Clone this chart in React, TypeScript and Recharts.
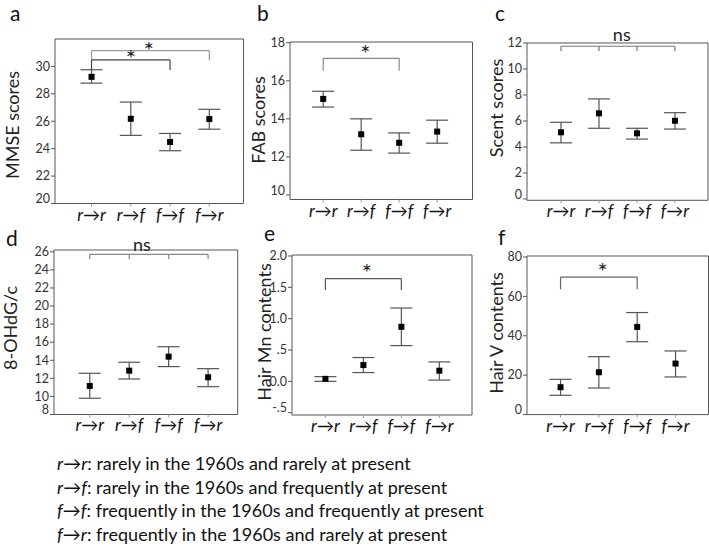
import React from 'react';
import {
  ScatterChart,
  Scatter,
  XAxis,
  YAxis,
  ErrorBar,
  ReferenceArea,
  ReferenceLine,
  ReferenceDot,
} from 'recharts';

const categories = ['r→r', 'r→f', 'f→f', 'f→r'];

const mmseMean = [29.24, 26.18, 24.49, 26.16];
const mmseLow = [28.78, 24.97, 23.85, 25.42];
const mmseHigh = [29.76, 27.4, 25.11, 26.87];

const fabMean = [15.05, 13.19, 12.74, 13.33];
const fabLow = [14.62, 12.35, 12.2, 12.72];
const fabHigh = [15.45, 14.0, 13.26, 13.93];

const scentMean = [5.13, 6.59, 5.05, 6.02];
const scentLow = [4.32, 5.44, 4.61, 5.38];
const scentHigh = [5.9, 7.7, 5.44, 6.64];

const ohdgMean = [11.16, 12.85, 14.4, 12.12];
const ohdgLow = [9.8, 11.93, 13.3, 11.08];
const ohdgHigh = [12.56, 13.78, 15.5, 13.07];

const mnMean = [0.04, 0.26, 0.87, 0.17];
const mnLow = [0.0, 0.14, 0.57, 0.02];
const mnHigh = [0.075, 0.38, 1.17, 0.31];

const vMean = [13.9, 21.5, 44.5, 25.9];
const vLow = [9.8, 13.5, 37.0, 19.1];
const vHigh = [17.9, 29.4, 51.8, 32.3];

const legendLines = [
  ['r→r', ': rarely in the 1960s and rarely at present'],
  ['r→f', ': rarely in the 1960s and frequently at present'],
  ['f→f', ': frequently in the 1960s and frequently at present'],
  ['f→r', ': frequently in the 1960s and rarely at present'],
];

const FONT = 'Lato, "Noto Sans", sans-serif';
const Y_W = 45;
const M_TOP = 20;
const X_H = 30;

type Bracket = { pts: [number, number][]; color: string };
// kind 'star' is placed by its centre, 'ns' by its baseline
type Note = { x: number; y: number; text: string; kind: 'star' | 'ns' };

type Panel = {
  letter: string;
  title: string;
  box: [number, number, number, number]; // left, top, right, bottom (px)
  xDomain: [number, number];
  yDomain: [number, number];
  yTicks: number[];
  fmt?: (v: number) => string;
  mean: number[];
  low: number[];
  high: number[];
  brackets: Bracket[];
  notes: Note[];
  letterPos: [number, number];
  titlePos: [number, number];
};

const panels: Panel[] = [
  {
    letter: 'a', title: 'MMSE scores',
    box: [54.5, 38.5, 243, 203], xDomain: [0.07, 4.87], yDomain: [20, 32],
    yTicks: [20, 22, 24, 26, 28, 30],
    mean: mmseMean, low: mmseLow, high: mmseHigh,
    brackets: [
      { pts: [[1, 30.45], [1, 31.15], [4, 31.15], [4, 30.43]], color: '#9a9a9a' },
      { pts: [[1, 29.76], [1, 30.47], [3, 30.47], [3, 29.74]], color: '#444' },
    ],
    notes: [
      { x: 2.46, y: 31.45, text: '*', kind: 'star' },
      { x: 2.0, y: 30.82, text: '*', kind: 'star' },
    ],
    letterPos: [10, 21], titlePos: [12, 125],
  },
  {
    letter: 'b', title: 'FAB scores',
    box: [289.5, 42, 472, 199.5], xDomain: [0.126, 4.93], yDomain: [9.76, 18.04],
    yTicks: [10, 12, 14, 16, 18],
    mean: fabMean, low: fabLow, high: fabHigh,
    brackets: [{ pts: [[1, 16.53], [1, 17.18], [3, 17.18], [3, 16.53]], color: '#8a8a8a' }],
    notes: [{ x: 2.11, y: 17.64, text: '*', kind: 'star' }],
    letterPos: [257, 21], titlePos: [258, 120],
  },
  {
    letter: 'c', title: 'Scent scores',
    box: [527, 42.7, 708, 200], xDomain: [0.105, 4.87], yDomain: [-0.1, 12],
    yTicks: [0, 2, 4, 6, 8, 10, 12],
    mean: scentMean, low: scentLow, high: scentHigh,
    brackets: [
      { pts: [[1, 11.38], [1, 11.75], [4, 11.75], [4, 11.38]], color: '#777' },
      { pts: [[2, 11.75], [2, 11.38]], color: '#777' },
      { pts: [[3, 11.75], [3, 11.38]], color: '#777' },
    ],
    notes: [{ x: 2.6, y: 12.13, text: 'ns', kind: 'ns' }],
    letterPos: [495, 21], titlePos: [496, 108],
  },
  {
    letter: 'd', title: '8-OHdG/c',
    box: [54.3, 250, 238, 414.5], xDomain: [0.094, 4.75], yDomain: [8, 26.2],
    yTicks: [8, 10, 12, 14, 16, 18, 20, 22, 24, 26],
    mean: ohdgMean, low: ohdgLow, high: ohdgHigh,
    brackets: [
      { pts: [[1, 25.2], [1, 25.72], [4, 25.72], [4, 25.2]], color: '#888' },
      { pts: [[2, 25.72], [2, 25.2]], color: '#888' },
      { pts: [[3, 25.72], [3, 25.2]], color: '#888' },
    ],
    notes: [{ x: 2.32, y: 26.09, text: 'ns', kind: 'ns' }],
    letterPos: [6, 246], titlePos: [10, 328],
  },
  {
    letter: 'e', title: 'Hair Mn contents',
    box: [292.3, 255, 472.3, 415], xDomain: [0.12, 4.86], yDomain: [-0.537, 2.016],
    yTicks: [-0.5, 0, 0.5, 1, 1.5, 2],
    fmt: (v) => (v === 0 ? '0.0' : v === -0.5 ? '-.5' : v === 0.5 ? '.5' : v.toFixed(1)),
    mean: mnMean, low: mnLow, high: mnHigh,
    brackets: [{ pts: [[1, 1.458], [1, 1.638], [3, 1.638], [3, 1.458]], color: '#555' }],
    notes: [{ x: 2.09, y: 1.8, text: '*', kind: 'star' }],
    letterPos: [264, 241], titlePos: [264, 332],
  },
  {
    letter: 'f', title: 'Hair V contents',
    box: [526.5, 255.7, 708, 414.3], xDomain: [0.125, 4.86], yDomain: [0, 80.5],
    yTicks: [0, 20, 40, 60, 80],
    mean: vMean, low: vLow, high: vHigh,
    brackets: [{ pts: [[1, 63.6], [1, 69.8], [3, 69.8], [3, 63.6]], color: '#666' }],
    notes: [{ x: 2.1, y: 74.3, text: '*', kind: 'star' }],
    letterPos: [498, 245], titlePos: [496, 333],
  },
];

function XTick(props: any) {
  const { x, y, payload } = props;
  const label = categories[payload.value - 1] ?? '';
  return (
    <text x={x} y={y + 12} textAnchor="middle" fontSize={17} fontStyle="italic" fill="#111" fontFamily={FONT}>
      {label}
    </text>
  );
}

function makeYTick(p: Panel) {
  return function YTick(props: any) {
    const { x, y, payload } = props;
    const v = payload.value as number;
    const lift = Math.abs(v - p.yDomain[0]) < 0.15 * (p.yTicks[1] - p.yTicks[0]) ? -4.5 : 0;
    return (
      <text x={x + 1} y={y + lift} dy={4.3} textAnchor="end" fontSize={12.5} fill="#333" fontFamily={FONT}>
        {p.fmt ? p.fmt(v) : String(v)}
      </text>
    );
  };
}

function makeNoteLabel(n: Note) {
  return function NoteLabel(props: any) {
    const vb = props.viewBox || {};
    const cx = vb.cx ?? vb.x ?? 0;
    const cy = vb.cy ?? vb.y ?? 0;
    if (n.kind === 'star') {
      return (
        <text x={cx} y={cy + 12} textAnchor="middle" fontSize={24} fill="#222" fontFamily={FONT}>
          {n.text}
        </text>
      );
    }
    return (
      <text x={cx} y={cy} textAnchor="middle" fontSize={18} fill="#222" fontFamily={FONT}>
        {n.text}
      </text>
    );
  };
}

function SquareMark(props: any) {
  const { cx, cy } = props;
  if (cx == null || cy == null) return null;
  return <rect x={cx - 3} y={cy - 3} width={6} height={6} fill="#000" />;
}

function PanelChart({ p }: { p: Panel }) {
  const [L, T, R, B] = p.box;
  const w = R - L + Y_W + 2;
  const h = B - T + M_TOP + X_H;
  const data = p.mean.map((m, i) => ({ x: i + 1, y: m, err: [m - p.low[i], p.high[i] - m] }));
  const YTick = makeYTick(p);
  return (
    <div style={{ position: 'absolute', left: L - Y_W, top: T - M_TOP }}>
      <ScatterChart width={w} height={h} margin={{ top: M_TOP, right: 2, bottom: 0, left: 0 }}>
        <XAxis
          type="number" dataKey="x" domain={p.xDomain} ticks={[1, 2, 3, 4]} allowDataOverflow interval={0}
          axisLine={false} tickLine={{ stroke: '#999' }} tickSize={3} height={X_H} tick={<XTick />}
        />
        <YAxis
          type="number" dataKey="y" domain={p.yDomain} ticks={p.yTicks} allowDataOverflow interval={0}
          axisLine={false} tickLine={{ stroke: '#555' }} tickSize={4} width={Y_W} tick={<YTick />}
        />
        <ReferenceArea
          x1={p.xDomain[0]} x2={p.xDomain[1]} y1={p.yDomain[0]} y2={p.yDomain[1]}
          fill="none" stroke="#555" strokeWidth={1} ifOverflow="visible"
        />
        {p.brackets.map((b, bi) =>
          b.pts.slice(1).map((pt, si) => (
            <ReferenceLine
              key={`${bi}-${si}`}
              segment={[{ x: b.pts[si][0], y: b.pts[si][1] }, { x: pt[0], y: pt[1] }]}
              stroke={b.color} strokeWidth={1.2} ifOverflow="visible"
            />
          ))
        )}
        {p.notes.map((n, ni) => {
          const NoteLabel = makeNoteLabel(n);
          return (
            <ReferenceDot
              key={ni} x={n.x} y={n.y} r={0} ifOverflow="visible" stroke="none" fill="none"
              label={<NoteLabel />}
            />
          );
        })}
        <Scatter data={data} shape={<SquareMark />} fill="#000" isAnimationActive={false}>
          <ErrorBar dataKey="err" direction="y" width={11} stroke="#555" strokeWidth={1.2} />
        </Scatter>
      </ScatterChart>
    </div>
  );
}

export default function App() {
  return (
    <div style={{ position: 'absolute', left: 0, top: 0, width: 709, height: 550, background: '#fff', fontFamily: FONT }}>
      <svg width={709} height={550} style={{ position: 'absolute', left: 0, top: 0 }}>
        {panels.map((p) => (
          <g key={p.letter}>
            <text x={p.letterPos[0]} y={p.letterPos[1]} fontSize={21} fill="#111" fontFamily={FONT}>
              {p.letter}
            </text>
            <text
              x={p.titlePos[0]} y={p.titlePos[1]} fontSize={18} fill="#222" fontFamily={FONT}
              textAnchor="middle" dominantBaseline="central"
              transform={`rotate(-90 ${p.titlePos[0]} ${p.titlePos[1]})`}
            >
              {p.title}
            </text>
          </g>
        ))}
        {legendLines.map((ln, i) => (
          <text key={i} x={57} y={470 + i * 23.5} fontSize={18} fill="#111" fontFamily={FONT}>
            <tspan fontStyle="italic">{ln[0]}</tspan>
            <tspan>{ln[1]}</tspan>
          </text>
        ))}
      </svg>
      {panels.map((p) => (
        <PanelChart key={p.letter} p={p} />
      ))}
    </div>
  );
}
